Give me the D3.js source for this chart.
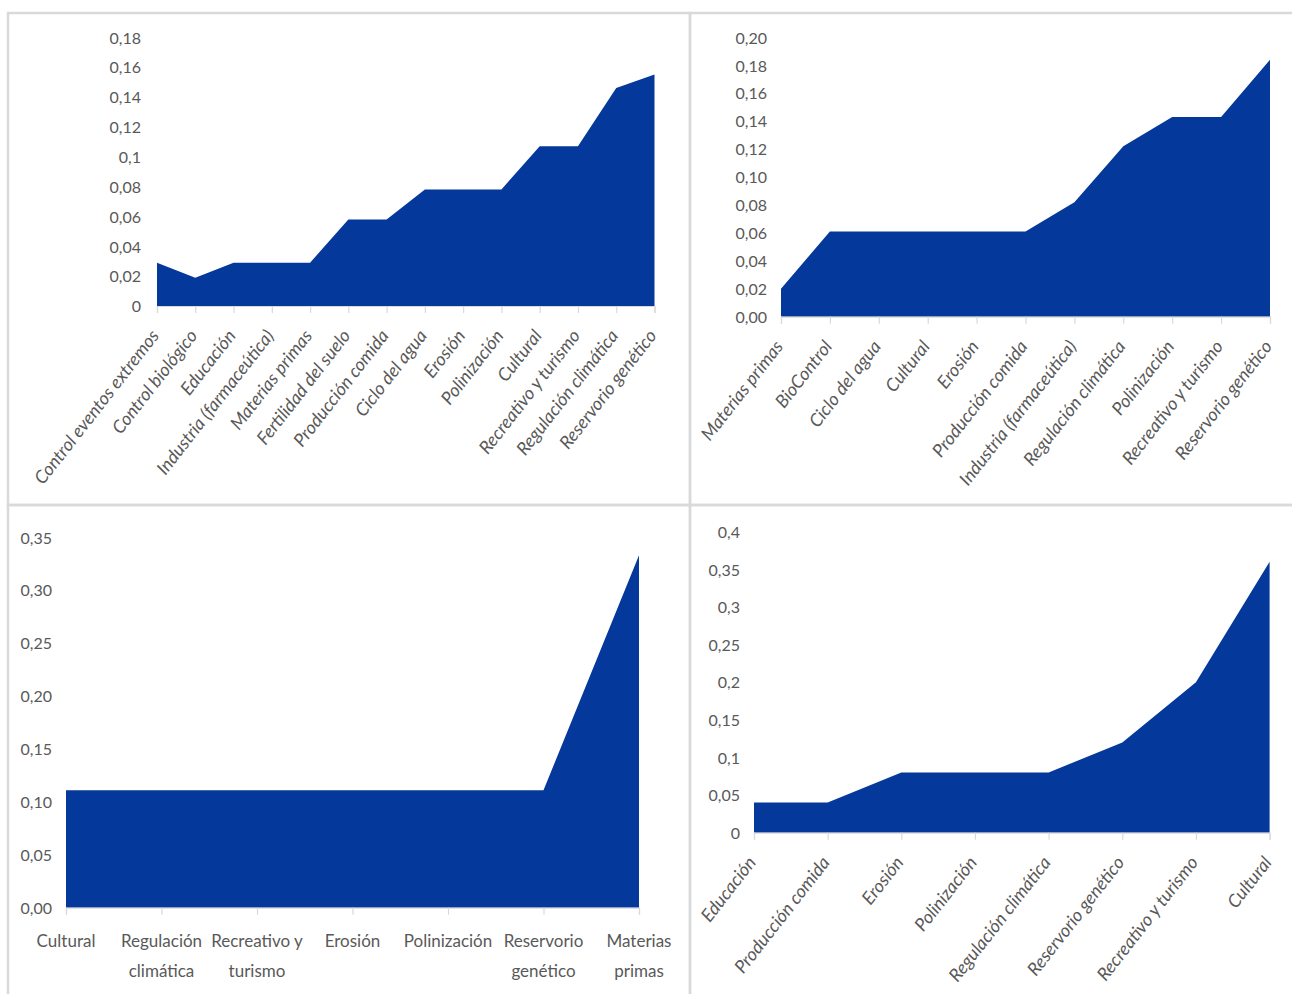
<!DOCTYPE html>
<html>
<head>
<meta charset="utf-8">
<script src="https://cdn.jsdelivr.net/npm/d3@7"></script>
<style>
  html, body { margin: 0; padding: 0; background: #ffffff; }
  svg { display: block; }
  text { font-family: Lato, "Liberation Sans", sans-serif; fill: #595959; }
</style>
</head>
<body>
<svg id="chart" width="1292" height="994"></svg>
<script>
// Ecosystem services, relative weights per panel
const panel1Categories = ["Control eventos extremos", "Control biológico", "Educación", "Industria (farmaceútica)", "Materias primas", "Fertilidad del suelo", "Producción comida", "Ciclo del agua", "Erosión", "Polinización", "Cultural", "Recreativo y turismo", "Regulación climática", "Reservorio genético"];
const panel1Values = [0.029, 0.019, 0.029, 0.029, 0.029, 0.058, 0.058, 0.078, 0.078, 0.078, 0.107, 0.107, 0.146, 0.155];
const panel1Ticks = [0, 0.02, 0.04, 0.06, 0.08, 0.1, 0.12, 0.14, 0.16, 0.18];

const panel2Categories = ["Materias primas", "BioControl", "Ciclo del agua", "Cultural", "Erosión", "Producción comida", "Industria (farmaceútica)", "Regulación climática", "Polinización", "Recreativo y turismo", "Reservorio genético"];
const panel2Values = [0.020, 0.061, 0.061, 0.061, 0.061, 0.061, 0.082, 0.122, 0.143, 0.143, 0.184];
const panel2Ticks = [0, 0.02, 0.04, 0.06, 0.08, 0.10, 0.12, 0.14, 0.16, 0.18, 0.20];

const panel3Categories = ["Cultural", "Regulación climática", "Recreativo y turismo", "Erosión", "Polinización", "Reservorio genético", "Materias primas"];
const panel3Values = [0.111, 0.111, 0.111, 0.111, 0.111, 0.111, 0.333];
const panel3Ticks = [0, 0.05, 0.10, 0.15, 0.20, 0.25, 0.30, 0.35];

const panel4Categories = ["Educación", "Producción comida", "Erosión", "Polinización", "Regulación climática", "Reservorio genético", "Recreativo y turismo", "Cultural"];
const panel4Values = [0.04, 0.04, 0.08, 0.08, 0.08, 0.12, 0.20, 0.36];
const panel4Ticks = [0, 0.05, 0.1, 0.15, 0.2, 0.25, 0.3, 0.35, 0.4];

const fillColor = "#04399b";
const gridGray = "#d9d9d9";

const fmtGeneral = d => String(+d.toFixed(2)).replace(".", ",");
const fmtFixed = d => d.toFixed(2).replace(".", ",");

const svg = d3.select("#chart");

// frames around the four charts
const frames = svg.append("g")
  .attr("fill", "none")
  .attr("stroke", gridGray)
  .attr("stroke-width", 2.5);
frames.append("rect").attr("x", 8).attr("y", 13).attr("width", 682).attr("height", 492);
frames.append("rect").attr("x", 690).attr("y", 13).attr("width", 610).attr("height", 492);
frames.append("rect").attr("x", 8).attr("y", 505).attr("width", 682).attr("height", 500);
frames.append("rect").attr("x", 690).attr("y", 505).attr("width", 610).attr("height", 500);

function drawPanel(cfg) {
  const g = svg.append("g");
  const x = d3.scalePoint().domain(cfg.categories).range([cfg.x0, cfg.x1]).padding(0);
  const y = d3.scaleLinear().domain([0, cfg.yMax]).range([cfg.y0, cfg.yTop]);

  const data = cfg.categories.map((c, i) => ({ c, v: cfg.values[i] }));

  const area = d3.area()
    .x(d => x(d.c))
    .y0(y(0))
    .y1(d => y(d.v));

  g.append("path")
    .datum(data)
    .attr("fill", fillColor)
    .attr("d", area);

  // category axis: baseline and tick marks
  const xAxis = d3.axisBottom(x).tickSize(7).tickFormat("");
  const xg = g.append("g")
    .attr("transform", `translate(0,${y(0)})`)
    .call(xAxis);
  xg.select(".domain").attr("stroke", gridGray).attr("stroke-width", 1.2);
  xg.selectAll(".tick line").attr("stroke", gridGray).attr("stroke-width", 1.2);

  // value axis labels only
  const yAxis = d3.axisLeft(y).tickValues(cfg.ticks).tickSize(0).tickPadding(0).tickFormat(cfg.format);
  const yg = g.append("g")
    .attr("transform", `translate(${cfg.labelRight},0)`)
    .call(yAxis);
  yg.select(".domain").remove();
  yg.selectAll(".tick text")
    .attr("font-size", 16)
    .attr("dy", "0.36em")
    .attr("x", 0)
    .style("fill", "#595959");

  // category labels
  if (cfg.rotate) {
    g.append("g").selectAll("text")
      .data(cfg.categories)
      .join("text")
      .attr("transform", d => `translate(${x(d) + 3},${y(0) + 30}) rotate(-52)`)
      .attr("text-anchor", "end")
      .attr("font-size", 18)
      .attr("font-style", "italic")
      .text(d => d);
  } else {
    const labels = g.append("g").selectAll("text")
      .data(cfg.categories)
      .join("text")
      .attr("text-anchor", "middle")
      .attr("font-size", 17)
      .attr("x", d => x(d))
      .attr("y", y(0) + 39);
    const maxW = x.step() + 2;
    labels.each(function (d) {
      const t = d3.select(this);
      const words = d.split(" ");
      const lines = [];
      let line = [];
      const probe = t.append("tspan");
      words.forEach(w => {
        const trial = line.concat([w]).join(" ");
        probe.text(trial);
        if (probe.node().getComputedTextLength() > maxW && line.length) {
          lines.push(line.join(" "));
          line = [w];
        } else {
          line.push(w);
        }
      });
      lines.push(line.join(" "));
      probe.remove();
      lines.forEach((ln, i) => {
        t.append("tspan")
          .attr("x", x(d))
          .attr("dy", i === 0 ? 0 : 30)
          .text(ln);
      });
    });
  }
}

drawPanel({
  categories: panel1Categories, values: panel1Values, ticks: panel1Ticks,
  yMax: 0.18, x0: 157, x1: 654.5, y0: 306, yTop: 37.3, labelRight: 141,
  format: fmtGeneral, rotate: true
});

drawPanel({
  categories: panel2Categories, values: panel2Values, ticks: panel2Ticks,
  yMax: 0.20, x0: 781, x1: 1270, y0: 316.7, yTop: 37.3, labelRight: 767,
  format: fmtFixed, rotate: true
});

drawPanel({
  categories: panel3Categories, values: panel3Values, ticks: panel3Ticks,
  yMax: 0.35, x0: 66, x1: 639, y0: 907.7, yTop: 537.3, labelRight: 52,
  format: fmtFixed, rotate: false
});

drawPanel({
  categories: panel4Categories, values: panel4Values, ticks: panel4Ticks,
  yMax: 0.4, x0: 754, x1: 1269.6, y0: 832.7, yTop: 531.7, labelRight: 740,
  format: fmtGeneral, rotate: true
});
</script>
</body>
</html>
